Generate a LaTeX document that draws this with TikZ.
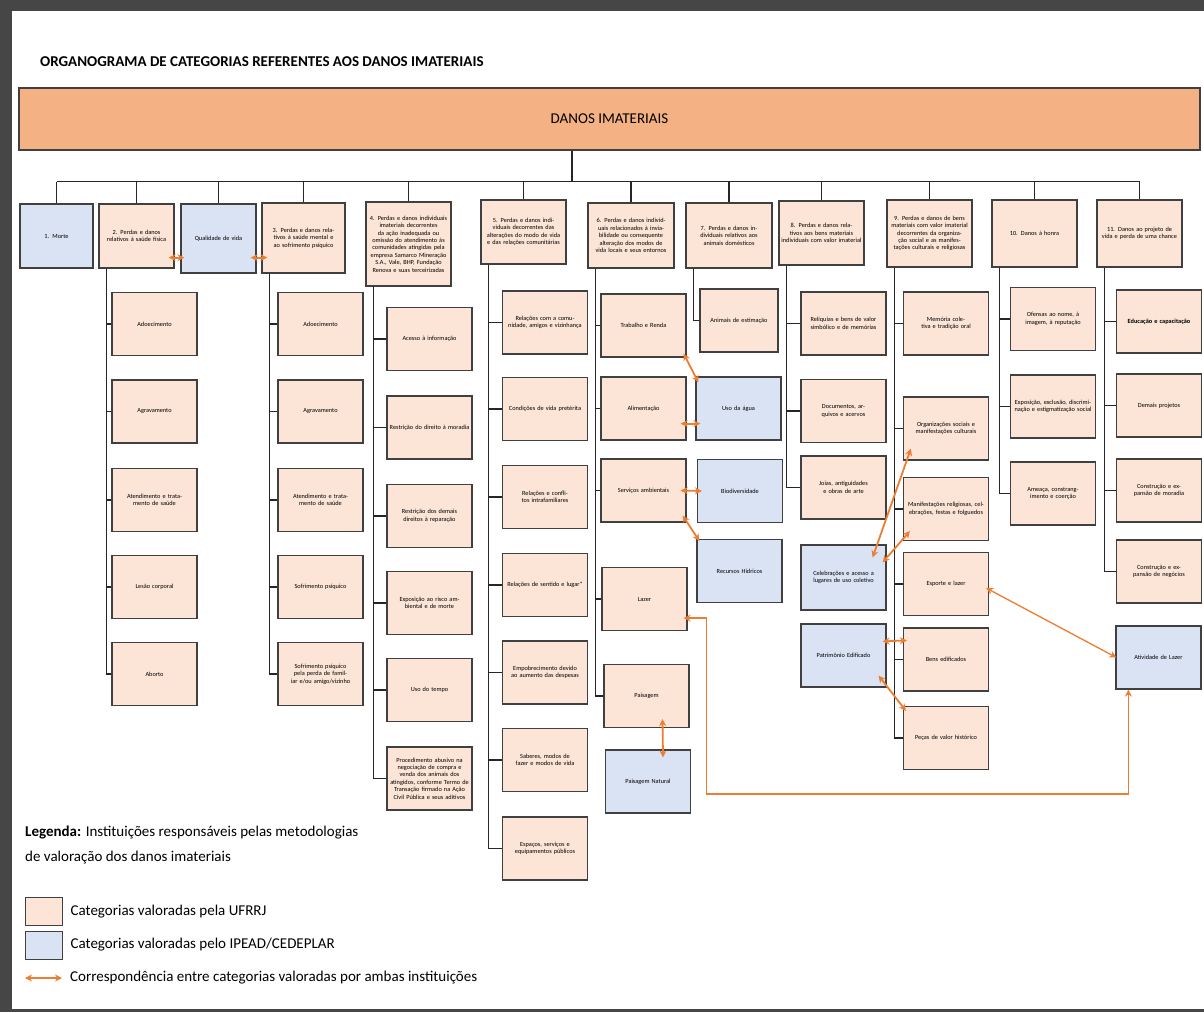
\documentclass[tikz,border=0pt]{standalone}
\usepackage{fontspec}
\setmainfont{Carlito}
\usepackage{tikz}
\usetikzlibrary{arrows.meta, positioning, calc}
\definecolor{pessego}{RGB}{252,228,214}
\definecolor{azulIP}{RGB}{218,227,243}
\definecolor{laranjaT}{RGB}{244,177,131}
\definecolor{laranjaA}{RGB}{237,125,49}
\definecolor{moldura}{RGB}{70,70,70}

\begin{document}
\begin{tikzpicture}[x=1pt, y=-1pt,
  caixa/.style={rectangle, draw=black!75, line width=1.2pt, align=center,
                inner sep=1pt, font=\fontsize{6.3}{7.4}\selectfont},
  uf/.style={caixa, fill=pessego},
  ip/.style={caixa, fill=azulIP},
  filho/.style={minimum width=85pt, minimum height=63pt, text width=81pt},
  raiz/.style={rectangle, draw=black!75, line width=1.2pt, fill=laranjaT,
               minimum width=1181pt, minimum height=62pt,
               font=\fontsize{15}{17}\selectfont},
  titulo/.style={font=\bfseries\fontsize{15}{18}\selectfont, inner sep=0pt},
  legenda/.style={font=\fontsize{15}{25}\selectfont, align=left, inner sep=0pt},
  chave/.style={rectangle, draw=black!75, line width=0.8pt,
                minimum width=37pt, minimum height=28pt},
  ramo/.style={draw=black!85, line width=1.2pt},
  corr/.style={<->, >={Stealth[length=7pt,width=7pt]}, draw=laranjaA, line width=1.8pt}
]
  \useasboundingbox (0,0) rectangle (1204,1012);
  \fill[moldura] (0,0) rectangle (1204,1012);
  \fill[white] (12,11) rectangle (1204,1009);

  % Titulo e raiz
  \node[titulo, anchor=west] (titulo) at (40,62) {ORGANOGRAMA DE CATEGORIAS REFERENTES AOS DANOS IMATERIAIS};
  \node[raiz] (raiz) at (609.5,119) {DANOS IMATERIAIS};

  % Categorias (primeira linha)
  \node[ip, text width=71pt, minimum height=64pt] (morte) at (56.5,236) {1. Morte};
  \node[uf, text width=73pt, minimum height=64pt] (d2) at (136.5,236) {2. Perdas e danos relativos à saúde física};
  \node[ip, text width=73pt, minimum height=69pt] (qvida) at (218.5,238.5) {Qualidade de vida};
  \node[uf, text width=81pt, minimum height=70pt] (d3) at (303.5,238) {3. Perdas e danos relativos à saúde mental e ao sofrimento psíquico};
  \node[uf, text width=83pt, minimum height=84pt] (d4) at (408.5,244) {4. Perdas e danos individuais imateriais decorrentes da ação inadequada ou omissão do atendimento às comunidades atingidas pela empresa Samarco Mineração S.A., Vale, BHP, Fundação Renova e suas terceirizadas};
  \node[uf, text width=83pt, minimum height=64pt] (d5) at (523.5,232) {5. Perdas e danos individuais decorrentes das alterações do modo de vida e das relações comunitárias};
  \node[uf, text width=84pt, minimum height=65pt] (d6) at (631,235.5) {6. Perdas e danos individuais relacionados à inviabilidade ou consequente alteração dos modos de vida locais e seus entornos};
  \node[uf, text width=84pt, minimum height=65pt] (d7) at (729,235.5) {7. Perdas e danos individuais relativos aos animais domésticos};
  \node[uf, text width=83pt, minimum height=64pt] (d8) at (821.5,233) {8. Perdas e danos relativos aos bens materiais individuais com valor imaterial};
  \node[uf, text width=83pt, minimum height=67pt] (d9) at (929.5,233.5) {9. Perdas e danos de bens materiais com valor imaterial decorrentes da organização social e as manifestações culturais e religiosas};
  \node[uf, text width=83pt, minimum height=67pt] (d10) at (1034.5,233.5) {10. Danos à honra};
  \node[uf, text width=83pt, minimum height=67pt] (d11) at (1139.5,233.5) {11. Danos ao projeto de vida e perda de uma chance};

  \draw[ramo] ([xshift=-37.5pt]raiz.south) -- ++(0,31) coordinate (barra);
  \draw[ramo] (barra -| morte.north) -- (barra -| d11.north);
  \foreach \n in {morte,d2,qvida,d3,d4,d5,d6,d7,d8,d9,d10,d11}
    \draw[ramo] (barra -| \n.north) -- (\n.north);

  % Subcategorias
  \node[uf, filho] (c2a) at (154.5,324) {Adoecimento};
  \node[uf, filho] (c2b) at (154.5,411.5) {Agravamento};
  \node[uf, filho] (c2c) at (154.5,500) {Atendimento e tratamento de saúde};
  \node[uf, filho] (c2d) at (154.5,587) {Lesão corporal};
  \node[uf, filho] (c2e) at (154.5,674) {Aborto};

  \node[uf, filho] (c3a) at (320.5,324) {Adoecimento};
  \node[uf, filho] (c3b) at (320.5,411.5) {Agravamento};
  \node[uf, filho] (c3c) at (320.5,500) {Atendimento e tratamento de saúde};
  \node[uf, filho] (c3d) at (320.5,587) {Sofrimento psíquico};
  \node[uf, filho] (c3e) at (320.5,674) {Sofrimento psíquico pela perda de familiar e/ou amigo/vizinho};

  \node[uf, filho] (c4a) at (429.5,339) {Acesso à informação};
  \node[uf, filho] (c4b) at (429.5,427.5) {Restrição do direito à moradia};
  \node[uf, filho] (c4c) at (429.5,516) {Restrição dos demais direitos à reparação};
  \node[uf, filho] (c4d) at (429.5,603) {Exposição ao risco ambiental e de morte};
  \node[uf, filho] (c4e) at (429.5,690) {Uso do tempo};
  \node[uf, filho] (c4f) at (429.5,778.5) {Procedimento abusivo na negociação de compra e venda dos animais dos atingidos, conforme Termo de Transação firmado na Ação Civil Pública e seus aditivos};

  \node[uf, filho] (c5a) at (545,322.5) {Relações com a comunidade, amigos e vizinhança};
  \node[uf, filho] (c5b) at (545,409) {Condições de vida pretérita};
  \node[uf, filho] (c5c) at (545,497) {Relações e conflitos intrafamiliares};
  \node[uf, filho] (c5d) at (545,585) {Relações de sentido e lugar*};
  \node[uf, filho] (c5e) at (545,672.5) {Empobrecimento devido ao aumento das despesas};
  \node[uf, filho] (c5f) at (545,760) {Saberes, modos de fazer e modos de vida};
  \node[uf, filho] (c5g) at (545,848.5) {Espaços, serviços e equipamentos públicos};

  \node[uf, filho] (c6a) at (643.5,325.5) {Trabalho e Renda};
  \node[uf, filho] (c6b) at (643.5,408.5) {Alimentação};
  \node[uf, filho] (c6c) at (643.5,490.5) {Serviços ambientais};
  \node[uf, filho] (c6d) at (644.5,599) {Lazer};
  \node[uf, filho] (c6e) at (646.5,696) {Paisagem};
  \node[ip, filho] (azUso) at (738.5,408.5) {Uso da água};
  \node[ip, filho] (azBio) at (740,491) {Biodiversidade};
  \node[ip, filho] (azRec) at (739.5,571) {Recursos Hídricos};
  \node[ip, filho] (azPais) at (648,781.5) {Paisagem Natural};

  \node[uf, filho, minimum width=78pt, text width=74pt] (c7a) at (739,320.5) {Animais de estimação};

  \node[uf, filho] (c8a) at (843.5,323.5) {Relíquias e bens de valor simbólico e de memórias};
  \node[uf, filho] (c8b) at (843.5,411) {Documentos, arquivos e acervos};
  \node[uf, filho] (c8c) at (843.5,487.5) {Joias, antiguidades e obras de arte};
  \node[ip, filho, minimum height=65pt] (azCel) at (843.5,577.5) {Celebrações e acesso a lugares de uso coletivo};
  \node[ip, filho] (azPat) at (843.5,655.5) {Patrimônio Edificado};

  \node[uf, filho] (c9a) at (946,323.5) {Memória coletiva e tradição oral};
  \node[uf, filho] (c9b) at (946,428.5) {Organizações sociais e manifestações culturais};
  \node[uf, filho] (c9c) at (946,509) {Manifestações religiosas, celebrações, festas e folguedos};
  \node[uf, filho] (c9d) at (946,584) {Esporte e lazer};
  \node[uf, filho] (c9e) at (946,659.5) {Bens edificados};
  \node[uf, filho] (c9f) at (946,738) {Peças de valor histórico};

  \node[uf, filho] (c10a) at (1053,319) {Ofensas ao nome, à imagem, à reputação};
  \node[uf, filho] (c10b) at (1053,406.5) {Exposição, exclusão, discriminação e estigmatização social};
  \node[uf, filho] (c10c) at (1053,493.5) {Ameaça, constrangimento e coerção};

  \node[uf, filho] (c11a) at (1159,321.5) {\textbf{Educação e capacitação}};
  \node[uf, filho] (c11b) at (1159,405.5) {Demais projetos};
  \node[uf, filho] (c11c) at (1159,490.5) {Construção e expansão de moradia};
  \node[uf, filho] (c11d) at (1159,571.5) {Construção e expansão de negócios};
  \node[ip, filho] (azAtiv) at (1158.5,657.5) {Atividade de Lazer};

  \foreach \p/\f in {d2/c2a,d2/c2b,d2/c2c,d2/c2d,d2/c2e,
                     d3/c3a,d3/c3b,d3/c3c,d3/c3d,d3/c3e,
                     d4/c4a,d4/c4b,d4/c4c,d4/c4d,d4/c4e,d4/c4f,
                     d5/c5a,d5/c5b,d5/c5c,d5/c5d,d5/c5e,d5/c5f,d5/c5g,
                     d6/c6a,d6/c6b,d6/c6c,d6/c6d,d6/c6e,
                     d7/c7a,
                     d8/c8a,d8/c8b,d8/c8c,
                     d9/c9a,d9/c9b,d9/c9c,d9/c9d,d9/c9e,d9/c9f,
                     d10/c10a,d10/c10b,d10/c10c,
                     d11/c11a,d11/c11b,d11/c11c,d11/c11d}
    \draw[ramo] ($(\p.south west)+(8,0)$) |- (\f.west);

  % Correspondencias
  \draw[corr] ([xshift=-6pt,yshift=11pt]d2.south east) -- ([xshift=4pt,yshift=16pt]qvida.south west);
  \draw[corr] ([xshift=-6pt,yshift=16pt]qvida.south east) -- ([xshift=6pt,yshift=16pt]d3.south west);
  \draw[corr] ([xshift=-3pt,yshift=4pt]c6a.south east) -- ([xshift=3pt,yshift=-6pt]azUso.north west);
  \draw[corr] ([xshift=-6pt,yshift=17pt]c6b.south east) -- ([xshift=5pt,yshift=17pt]azUso.south west);
  \draw[corr] ([xshift=-6pt]c6c.east) -- ([xshift=5pt]azBio.west);
  \draw[corr] ([xshift=-4pt,yshift=7pt]c6c.south east) -- ([xshift=3pt,yshift=-2pt]azRec.north west);
  \draw[corr, line width=1.3pt] ([xshift=-4pt,yshift=13pt]c6d.south east) -- ++(23,0) -- ++(0,176) -| ([xshift=13pt]azAtiv.south west);
  \draw[corr] ([xshift=16pt,yshift=9pt]c6e.south) -- ([xshift=15pt,yshift=-8pt]azPais.north);
  \draw[corr] ([xshift=-14pt,yshift=-13pt]azCel.north east) -- ([xshift=8pt,yshift=12pt]c9b.south west);
  \draw[corr] ([xshift=-4pt,yshift=-18pt]azCel.north east) -- ([xshift=7pt,yshift=10pt]c9c.south west);
  \draw[corr] ([xshift=-4pt,yshift=-18pt]azPat.north east) -- ([xshift=4pt,yshift=-13pt]c9e.north west);
  \draw[corr] ([xshift=-8pt,yshift=12pt]azPat.south east) -- ([xshift=3pt,yshift=-5pt]c9f.north west);
  \draw[corr, line width=1.3pt] ([xshift=-3pt,yshift=-4pt]c9d.east) -- ([xshift=1pt]azAtiv.west);

  % Legenda
  \node[legenda, anchor=north west] (leg) at (25,826) {\textbf{Legenda:} Instituições responsáveis pelas metodologias\\de valoração dos danos imateriais};
  \node[chave, fill=pessego] (kUF) at (43.5,911.5) {};
  \node[legenda, right=8pt of kUF] (tUF) {Categorias valoradas pela UFRRJ};
  \node[chave, fill=azulIP] (kIP) at (43.5,945) {};
  \node[legenda, right=8pt of kIP] (tIP) {Categorias valoradas pelo IPEAD/CEDEPLAR};
  \coordinate (s1) at (25,978);
  \coordinate (s2) at (62,978);
  \draw[corr] (s1) -- (s2);
  \node[legenda, anchor=west] (tCo) at (70,978) {Correspondência entre categorias valoradas por ambas instituições};
\end{tikzpicture}
\end{document}
